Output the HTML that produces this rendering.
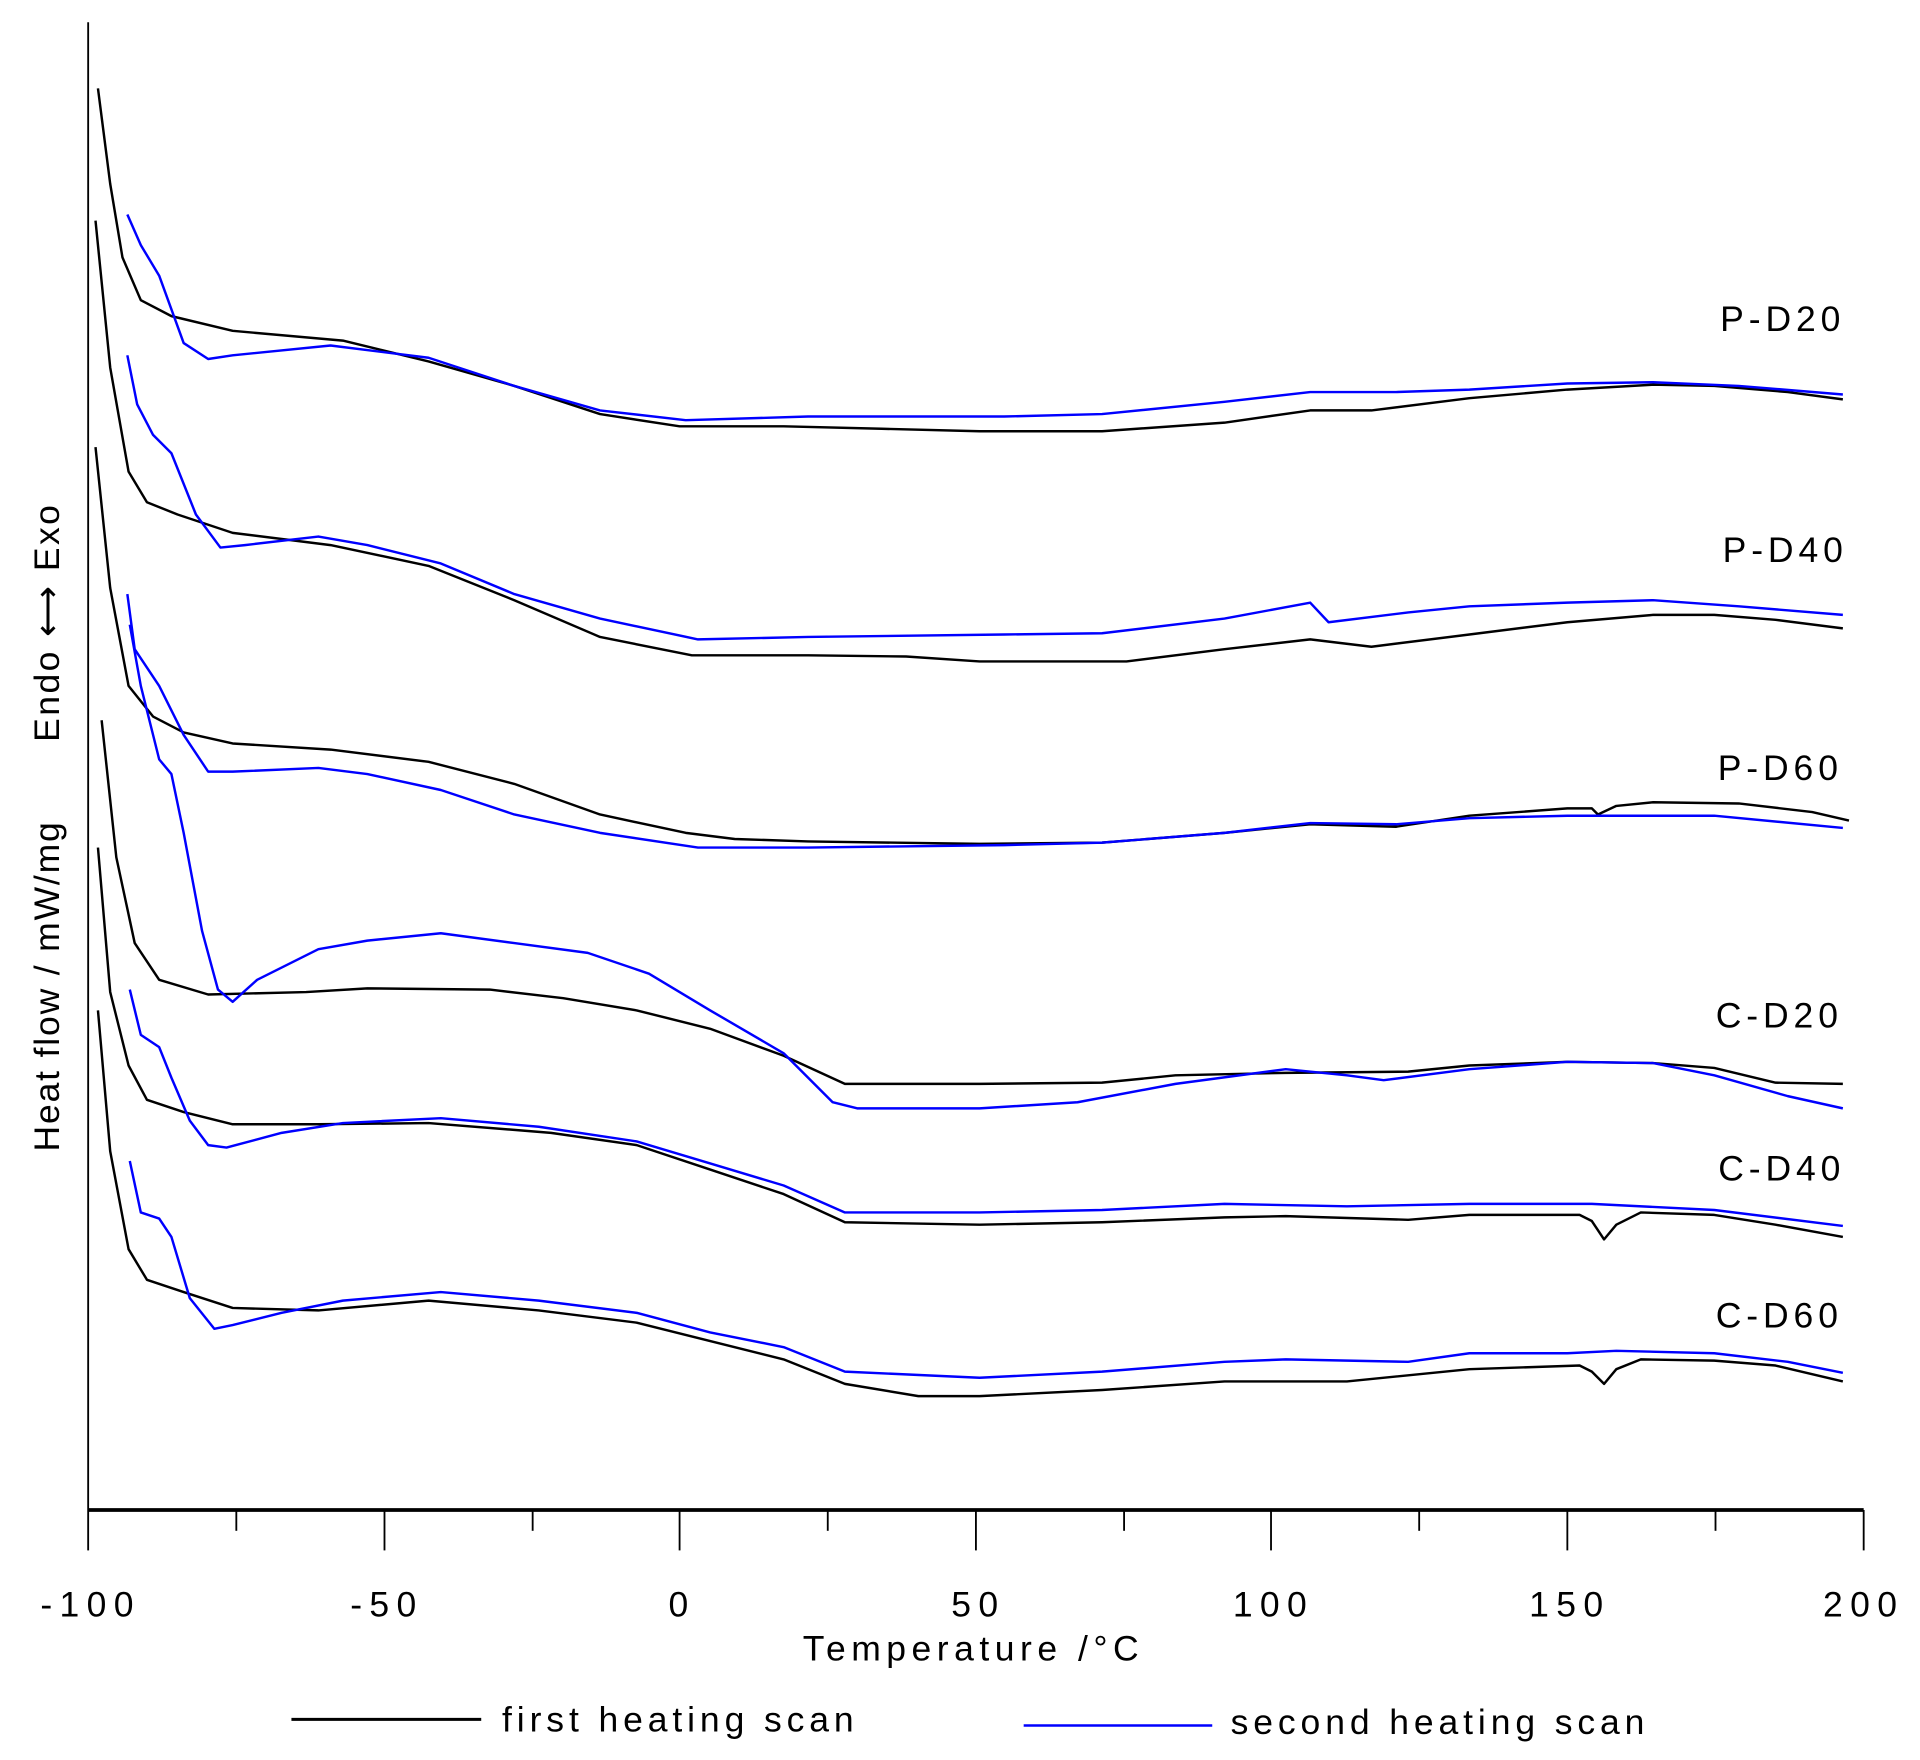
<!DOCTYPE html>
<html><head><meta charset="utf-8"><style>
html,body{margin:0;padding:0;background:#fff;}
svg{display:block;}
text{font-family:"Liberation Sans",Arial,sans-serif;fill:#000;}
.k{fill:none;stroke:#000;stroke-width:2;stroke-linejoin:round;}
.b{fill:none;stroke:#0000ff;stroke-width:2;stroke-linejoin:round;}
.lab{font-size:29px;letter-spacing:4px;}
</style></head><body>
<svg width="1920" height="1760" viewBox="0 0 1568 1437" xmlns="http://www.w3.org/2000/svg">
<rect width="1568" height="1437" fill="#fff"/>
<line x1="72" y1="18" x2="72" y2="1233" stroke="#000" stroke-width="1.5"/>
<line x1="72" y1="1233" x2="1522" y2="1233" stroke="#000" stroke-width="3"/>
<g stroke="#000" stroke-width="1.5">
<line x1="72" y1="1233" x2="72" y2="1266"/><line x1="193" y1="1233" x2="193" y2="1250"/>
<line x1="314" y1="1233" x2="314" y2="1266"/><line x1="435" y1="1233" x2="435" y2="1250"/>
<line x1="555" y1="1233" x2="555" y2="1266"/><line x1="676" y1="1233" x2="676" y2="1250"/>
<line x1="797" y1="1233" x2="797" y2="1266"/><line x1="918" y1="1233" x2="918" y2="1250"/>
<line x1="1038" y1="1233" x2="1038" y2="1266"/><line x1="1159" y1="1233" x2="1159" y2="1250"/>
<line x1="1280" y1="1233" x2="1280" y2="1266"/><line x1="1401" y1="1233" x2="1401" y2="1250"/>
<line x1="1522" y1="1233" x2="1522" y2="1266"/>
</g>
<g font-size="29" text-anchor="middle" style="letter-spacing:6px">
<text x="74" y="1320">-100</text><text x="316" y="1320">-50</text><text x="557" y="1320">0</text>
<text x="799" y="1320">50</text><text x="1040" y="1320">100</text><text x="1282" y="1320">150</text>
<text x="1522" y="1320">200</text>
</g>
<text x="795" y="1356" font-size="29" text-anchor="middle" style="letter-spacing:4.5px">Temperature /°C</text>
<line x1="238" y1="1404" x2="393" y2="1404" stroke="#000" stroke-width="2.5"/>
<line x1="836" y1="1409" x2="990" y2="1409" stroke="#0000ff" stroke-width="2"/>
<text x="410" y="1414" font-size="29" style="letter-spacing:4px">first heating scan</text>
<text x="1005" y="1416" font-size="29" style="letter-spacing:4px">second heating scan</text>
<text transform="translate(48,805) rotate(-90)" font-size="29" text-anchor="middle" style="letter-spacing:1.5px">Heat flow / mW/mg</text>
<text transform="translate(48,508) rotate(-90)" font-size="29" text-anchor="middle" style="letter-spacing:2px">Endo ⟷ Exo</text>
<g class="lab" text-anchor="end">
<text x="1507" y="270">P-D20</text><text x="1509" y="459">P-D40</text><text x="1505" y="637">P-D60</text>
<text x="1505" y="839">C-D20</text><text x="1507" y="964">C-D40</text><text x="1505" y="1084">C-D60</text>
</g>
<polyline class="k" points="80,72 90,150 100,210 115,245 140,258 190,270 280,278 350,295 420,315 490,338 555,348 640,348 720,350 800,352 900,352 1000,345 1070,335 1120,335 1200,325 1280,318 1350,314 1400,315 1460,320 1505,326"/>
<polyline class="b" points="104,175 115,200 130,225 150,280 170,293 190,290 270,282 350,292 420,315 490,335 560,343 660,340 820,340 900,338 1000,328 1070,320 1140,320 1200,318 1280,313 1350,312 1420,315 1505,322"/>
<polyline class="k" points="78,180 90,300 105,385 120,410 145,420 190,435 270,445 350,462 420,490 490,520 565,535 660,535 740,536 800,540 860,540 920,540 1000,530 1070,522 1120,528 1200,518 1280,508 1350,502 1400,502 1450,506 1505,513"/>
<polyline class="b" points="104,290 112,330 125,355 140,370 160,420 180,447 200,445 260,438 300,445 360,460 420,485 490,505 570,522 660,520 820,518 900,517 1000,505 1070,492 1085,508 1150,500 1200,495 1280,492 1350,490 1420,495 1505,502"/>
<polyline class="k" points="78,365 90,480 105,560 125,585 150,598 190,607 270,612 350,622 420,640 490,665 560,680 600,685 660,687 800,689 900,688 1000,680 1070,673 1140,675 1200,666 1280,660 1300,660 1305,665 1320,658 1350,655 1420,656 1480,663 1510,670"/>
<polyline class="b" points="104,485 110,530 120,545 130,560 150,600 170,630 190,630 260,627 300,632 360,645 420,665 490,680 570,692 660,692 820,690 900,688 1000,680 1070,672 1140,673 1200,668 1280,666 1400,666 1505,676"/>
<polyline class="k" points="83,588 95,700 110,770 130,800 170,812 250,810 300,807 400,808 460,815 520,825 580,840 640,862 690,885 800,885 900,884 960,878 1050,876 1150,875 1200,870 1280,867 1350,868 1400,872 1450,884 1505,885"/>
<polyline class="b" points="106,510 115,560 130,620 140,632 150,680 165,760 178,808 190,818 210,800 260,775 300,768 360,762 420,770 480,778 530,795 580,825 640,860 680,900 700,905 800,905 880,900 960,885 1050,873 1100,878 1130,882 1200,873 1280,867 1350,868 1400,878 1460,895 1505,905"/>
<polyline class="k" points="80,692 90,810 105,870 120,898 150,908 190,918 260,918 350,917 450,925 520,935 580,955 640,975 690,998 800,1000 900,998 1000,994 1050,993 1150,996 1200,992 1290,992 1300,997 1310,1012 1320,1000 1340,990 1400,992 1450,1000 1505,1010"/>
<polyline class="b" points="106,808 115,845 130,855 140,880 155,915 170,935 185,937 230,925 280,917 360,913 440,920 520,932 580,950 640,968 690,990 800,990 900,988 1000,983 1100,985 1200,983 1300,983 1400,988 1505,1001"/>
<polyline class="k" points="80,825 90,940 105,1020 120,1045 150,1055 190,1068 260,1070 350,1062 440,1070 520,1080 580,1095 640,1110 690,1130 750,1140 800,1140 900,1135 1000,1128 1100,1128 1200,1118 1290,1115 1300,1120 1310,1130 1320,1118 1340,1110 1400,1111 1450,1115 1505,1128"/>
<polyline class="b" points="106,948 115,990 130,995 140,1010 155,1060 175,1085 190,1082 230,1072 280,1062 360,1055 440,1062 520,1072 580,1088 640,1100 690,1120 800,1125 900,1120 1000,1112 1050,1110 1150,1112 1200,1105 1280,1105 1320,1103 1400,1105 1460,1112 1505,1121"/>
</svg>
</body></html>
